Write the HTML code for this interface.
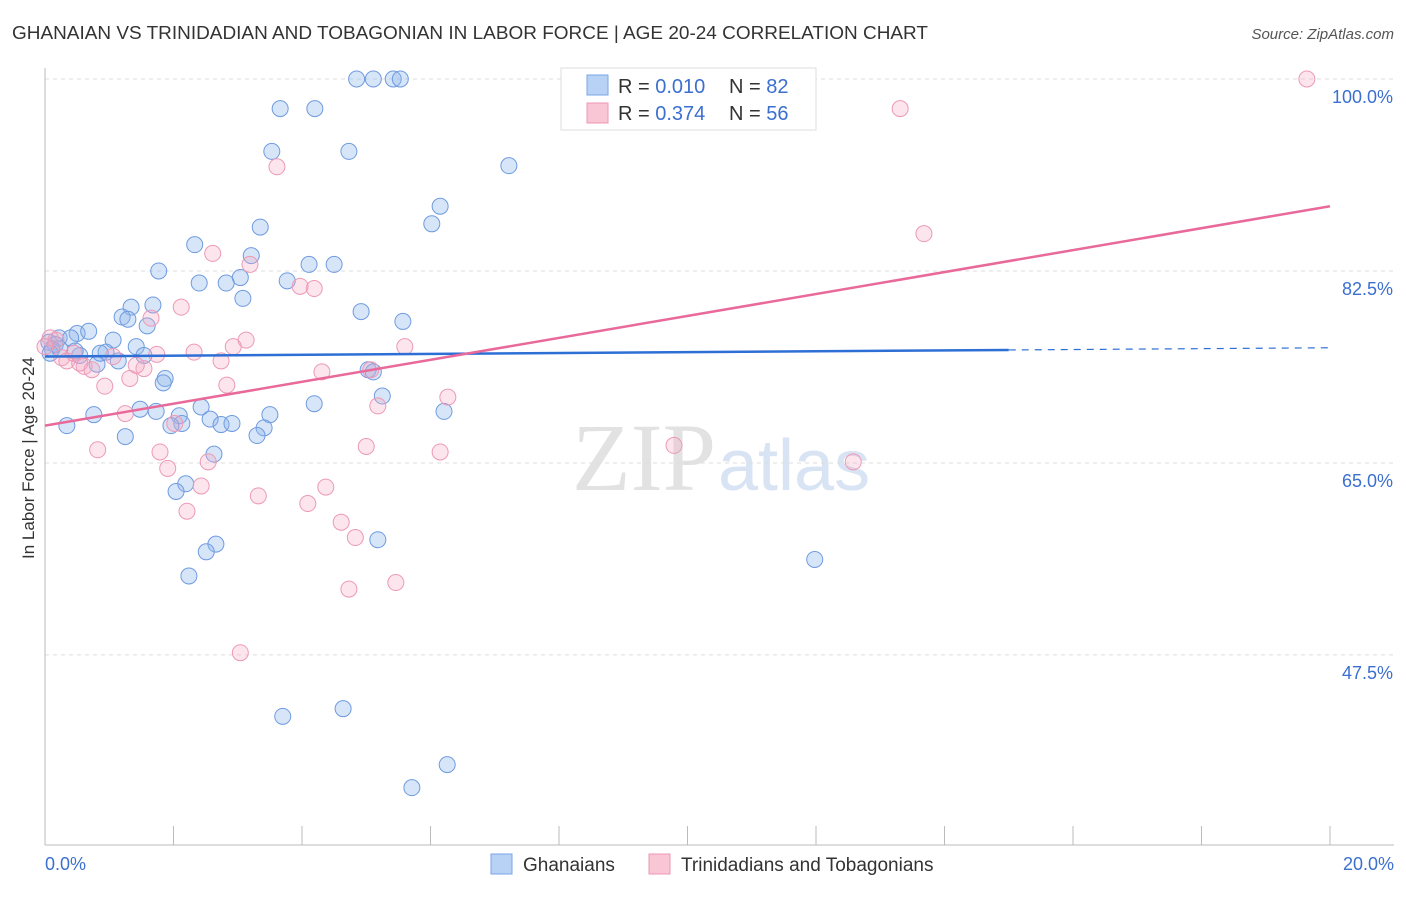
<!DOCTYPE html>
<html><head><meta charset="utf-8"><style>
body{margin:0;background:#fff;font-family:"Liberation Sans",sans-serif;}
</style></head><body>
<svg width="1406" height="892" xmlns="http://www.w3.org/2000/svg" id="chart">
<text x="12" y="39" font-size="18" fill="#333" textLength="916" lengthAdjust="spacingAndGlyphs">GHANAIAN VS TRINIDADIAN AND TOBAGONIAN IN LABOR FORCE | AGE 20-24 CORRELATION CHART</text>
<text x="1394" y="39" font-size="15" fill="#555" font-style="italic" text-anchor="end">Source: ZipAtlas.com</text>
<text x="716" y="490" font-size="96" fill="#e2e2e2" font-family="Liberation Serif,serif" text-anchor="end">ZIP</text>
<text x="718" y="490" font-size="72" fill="#d8e3f3">atlas</text>
<text transform="translate(34,458) rotate(-90)" font-size="17" fill="#333" text-anchor="middle">In Labor Force | Age 20-24</text>
<g id="grid"></g><g id="pts"></g><g id="lines"></g>
<g>
<rect x="561" y="68" width="255" height="62" fill="#fff" stroke="#ddd"/>
<rect x="587" y="75" width="21" height="20" fill="#b8d2f5" stroke="#7aa6e6"/>
<rect x="587" y="103" width="21" height="20" fill="#f9c6d6" stroke="#ee97b3"/>
<text x="618" y="93" font-size="20" fill="#333">R = <tspan fill="#3b6fd0">0.010</tspan></text>
<text x="729" y="93" font-size="20" fill="#333">N = <tspan fill="#3b6fd0">82</tspan></text>
<text x="618" y="120" font-size="20" fill="#333">R = <tspan fill="#3b6fd0">0.374</tspan></text>
<text x="729" y="120" font-size="20" fill="#333">N = <tspan fill="#3b6fd0">56</tspan></text>
</g>
<g>
<rect x="491" y="854" width="21" height="20" fill="#b8d2f5" stroke="#7aa6e6"/>
<text x="523" y="871" font-size="19" fill="#333">Ghanaians</text>
<rect x="649" y="854" width="21" height="20" fill="#f9c6d6" stroke="#ee97b3"/>
<text x="681" y="871" font-size="19" fill="#333">Trinidadians and Tobagonians</text>
</g>
</svg>
<script>
const yTicks=[100,82.5,65,47.5];
const xLabels=["0.0%","20.0%"];
const blueX=[4.85,5.11,5.42,5.53,3.66,4.20,3.53,4.73,7.22,6.15,6.02,3.35,2.33,3.21,1.77,4.11,4.50,3.04,2.40,2.82,3.77,3.08,1.34,1.68,1.20,1.29,1.59,4.92,5.57,0.50,0.68,0.22,0.40,1.06,1.42,0.06,0.16,0.95,0.54,1.54,0.81,1.14,0.11,5.03,5.11,1.87,1.84,5.25,4.19,2.43,1.48,1.73,2.09,0.76,0.34,3.50,6.21,2.57,2.13,1.96,2.74,2.91,3.41,1.25,3.30,2.63,2.19,2.04,5.18,2.66,2.51,11.98,2.24,3.70,4.64,6.26,5.71,0.08,0.23,0.47,0.86];
const blueY=[100,100,100,100,97.3,97.3,93.4,93.4,92.1,88.4,86.8,86.5,84.9,83.9,82.5,83.1,83.1,81.9,81.4,81.4,81.6,80.0,79.2,79.4,78.3,78.1,77.5,78.8,77.9,76.8,77.0,76.4,76.4,76.2,75.6,76.0,75.8,75.1,74.8,74.8,74.0,74.3,75.4,73.5,73.3,72.7,72.3,71.1,70.4,70.1,69.9,69.7,69.3,69.4,68.4,69.4,69.7,69.0,68.6,68.4,68.5,68.6,68.2,67.4,67.5,65.8,63.1,62.4,58.0,57.6,56.9,56.2,54.7,41.9,42.6,37.5,35.4,75.0,75.4,75.2,75.0];
const pinkX=[11.28,19.64,13.31,3.61,13.68,2.61,3.19,4.19,3.97,2.12,1.65,3.13,2.93,0.08,0.17,0.26,0.34,0.45,0.61,0.73,0.54,1.06,1.74,2.32,2.74,5.60,5.07,4.31,1.54,1.42,1.32,0.93,2.83,5.18,6.27,1.25,2.02,0.82,1.79,5.00,6.15,9.79,12.58,1.91,2.54,2.43,3.32,4.37,4.09,2.21,4.61,4.83,5.46,4.73,3.04,0.0];
const pinkY=[100,100,97.3,92.0,85.9,84.1,83.1,80.9,81.1,79.2,78.2,76.2,75.6,76.4,76.2,74.6,74.3,75.0,73.8,73.5,74.1,74.7,74.9,75.1,74.3,75.6,73.5,73.3,73.6,73.9,72.7,72.0,72.1,70.2,71.0,69.5,68.6,66.2,66.0,66.5,66.0,66.6,65.1,64.5,65.1,62.9,62.0,62.8,61.3,60.6,59.6,58.2,54.1,53.5,47.7,75.6];
const blueLine=[74.7,75.5]; const pinkLine=[68.4,88.4];
const NS="http://www.w3.org/2000/svg";
const xs=v=>45+v/20*1285, ys=v=>79+(100-v)*10.97;
function mk(t,a,p){const e=document.createElementNS(NS,t);for(const k in a)e.setAttribute(k,a[k]);p.appendChild(e);return e;}
const grid=document.getElementById('grid');
yTicks.forEach(t=>{const l=mk('line',{x1:45,x2:1394,y1:ys(t),y2:ys(t),stroke:'#ddd','stroke-dasharray':'4,4'},grid);


const tx=mk('text',{x:1393,y:ys(t)+24,'font-size':18,fill:'#3b6fd0','text-anchor':'end'},grid);tx.textContent=t.toFixed(1)+'%';

});
mk('line',{x1:45,x2:45,y1:68,y2:845,stroke:'#bbb'},grid);
mk('line',{x1:45,x2:1394,y1:845,y2:845,stroke:'#bbb'},grid);
for(let i=0;i<=10;i++){mk('line',{x1:45+i*128.5,x2:45+i*128.5,y1:826,y2:845,stroke:'#bbb'},grid);}
xLabels.forEach((s,i)=>{const tx=mk('text',{x:i?1394:45,y:870,'font-size':18,fill:'#3b6fd0','text-anchor':i?'end':'start'},grid);tx.textContent=s;

});
const pts=document.getElementById('pts');
blueX.forEach((x,i)=>{const c=mk('circle',{cx:xs(x),cy:ys(blueY[i]),r:8,fill:'rgba(140,180,235,0.35)',stroke:'#6f9be0','stroke-width':1},pts);

});
pinkX.forEach((x,i)=>{const c=mk('circle',{cx:xs(x),cy:ys(pinkY[i]),r:8,fill:'rgba(245,170,195,0.3)',stroke:'#ec9ab5','stroke-width':1},pts);

});
const L=document.getElementById('lines');
const bAt=x=>blueLine[0]+(blueLine[1]-blueLine[0])*x/20;
let l1=mk('line',{x1:xs(0),y1:ys(bAt(0)),x2:xs(15),y2:ys(bAt(15)),stroke:'#2e6fd6','stroke-width':2.5},L);


let l2=mk('line',{x1:xs(15),y1:ys(bAt(15)),x2:xs(20),y2:ys(bAt(20)),stroke:'#2e6fd6','stroke-width':1.2,'stroke-dasharray':'7,6'},L);


let l3=mk('line',{x1:xs(0),y1:ys(pinkLine[0]),x2:xs(20),y2:ys(pinkLine[1]),stroke:'#e8699a','stroke-width':2.5},L);


</script>
</body></html>
